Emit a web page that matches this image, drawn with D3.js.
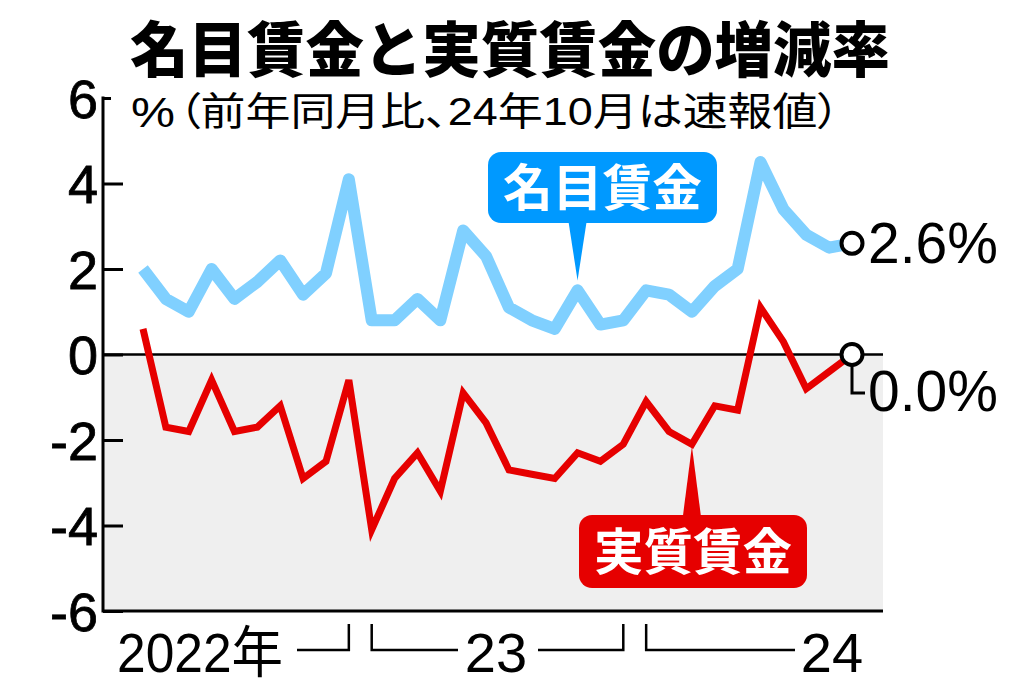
<!DOCTYPE html>
<html><head><meta charset="utf-8">
<script src="https://cdn.jsdelivr.net/npm/d3@7"></script>
<style>body{margin:0;background:#fff}svg{display:block}</style>
</head><body>
<svg id="c" width="1024" height="688"></svg>
<script>
// ---- data ----
const months = ["2022-03","2022-04","2022-05","2022-06","2022-07","2022-08","2022-09","2022-10","2022-11","2022-12",
  "2023-01","2023-02","2023-03","2023-04","2023-05","2023-06","2023-07","2023-08","2023-09","2023-10","2023-11","2023-12",
  "2024-01","2024-02","2024-03","2024-04","2024-05","2024-06","2024-07","2024-08","2024-09","2024-10"];
const nominal = [2.0,1.3,1.0,2.0,1.3,1.7,2.2,1.4,1.9,4.1,0.8,0.8,1.3,0.8,2.9,2.3,1.1,0.8,0.6,1.5,0.7,0.8,1.5,1.4,1.0,1.6,2.0,4.5,3.4,2.8,2.5,2.6];
const real = [0.6,-1.7,-1.8,-0.6,-1.8,-1.7,-1.2,-2.9,-2.5,-0.6,-4.1,-2.9,-2.3,-3.2,-0.9,-1.6,-2.7,-2.8,-2.9,-2.3,-2.5,-2.1,-1.1,-1.8,-2.1,-1.2,-1.3,1.1,0.3,-0.8,-0.4,0.0];
const yTicks = [-6,-4,-2,0,2,4,6];
const yearLabels = ["2022年","23","24"];
const seriesNames = ["名目賃金","実質賃金"];
const title = "名目賃金と実質賃金の増減率";
const unitSymbol = "%";
const unitNote = "（前年同月比、24年10月は速報値）";

// ---- layout ----
const svg = d3.select("#c");
const pL = 103, pR = 883, pT = 98, pB = 611;
const x = d3.scalePoint().domain(months).range([143, 852]);
const y = d3.scaleLinear().domain([-6, 6]).range([pB, pT]);
const cjk = "'Noto Sans CJK JP','Noto Sans CJK SC',sans-serif";
const lat = "'Liberation Sans','Noto Sans CJK JP',Arial,sans-serif";

// negative area
svg.append("rect").attr("x", pL).attr("y", y(0)).attr("width", pR - pL).attr("height", y(-6) - y(0)).attr("fill", "#efefef");

// title
svg.append("text").attr("x", 130).attr("y", 72).attr("textLength", 760).attr("lengthAdjust", "spacingAndGlyphs")
  .attr("font-family", cjk).attr("font-weight", 900).attr("font-size", 60).attr("fill", "#000").text(title);
// unit note
svg.append("text").attr("x", 131).attr("y", 127).attr("font-family", lat).attr("font-size", 42).attr("fill", "#000")
  .attr("textLength", 44).attr("lengthAdjust", "spacingAndGlyphs").text(unitSymbol);
svg.append("text").attr("x", 178).attr("y", 125).attr("textLength", 662).attr("lengthAdjust", "spacingAndGlyphs")
  .style("font-feature-settings", "'palt'")
  .attr("font-family", lat).attr("font-size", 39).attr("fill", "#000").text(unitNote);

// y axis
const ax = svg.append("g").attr("transform", `translate(${pL},0)`)
  .call(d3.axisLeft(y).tickValues(yTicks).tickSize(-20).tickPadding(5).tickFormat(d => String(d)));
ax.select(".domain").remove();
ax.selectAll(".tick line").attr("stroke", "#000").attr("stroke-width", 3)
  .attr("x2", d => d === 6 ? 8 : 20);
ax.selectAll(".tick text").attr("font-family", lat).attr("font-size", 54).attr("fill", "#000")
  .attr("stroke", "#000").attr("stroke-width", 0.8).attr("dy", "0.36em");

// axis frame lines
svg.append("line").attr("x1", pL).attr("x2", pL).attr("y1", pT - 1.5).attr("y2", pB + 1.5).attr("stroke", "#000").attr("stroke-width", 3);
svg.append("line").attr("x1", pL).attr("x2", pR).attr("y1", pB).attr("y2", pB).attr("stroke", "#000").attr("stroke-width", 3);
svg.append("line").attr("x1", pL).attr("x2", pR).attr("y1", y(0)).attr("y2", y(0)).attr("stroke", "#000").attr("stroke-width", 2.5);

// lines
const line = d3.line().x((d, i) => x(months[i])).y(d => y(d));
svg.append("path").datum(nominal).attr("d", line).attr("fill", "none").attr("stroke", "#80d0ff")
  .attr("stroke-width", 12).attr("stroke-linejoin", "round");
svg.append("path").datum(real).attr("d", line).attr("fill", "none").attr("stroke", "#e60000")
  .attr("stroke-width", 7).attr("stroke-linejoin", "miter");

// x year brackets
const xl = svg.append("g").attr("stroke", "#000").attr("stroke-width", 2.5).attr("fill", "none");
const by = 650, bt = 624;
const xDec22 = x("2022-12"), xJan23 = x("2023-01"), xDec23 = x("2023-12"), xJan24 = x("2024-01");
xl.append("path").attr("d", `M297,${by}H${xDec22}V${bt}`);
xl.append("path").attr("d", `M${xJan23},${bt}V${by}H458`);
xl.append("path").attr("d", `M538,${by}H${xDec23}V${bt}`);
xl.append("path").attr("d", `M${xJan24},${bt}V${by}H795`);
svg.append("text").attr("x", 117).attr("y", 672).attr("textLength", 166).attr("lengthAdjust", "spacingAndGlyphs")
  .attr("font-family", lat).attr("font-size", 56).attr("fill", "#000").text(yearLabels[0]);
svg.append("text").attr("x", 496).attr("y", 672).attr("text-anchor", "middle")
  .attr("font-family", lat).attr("font-size", 56).attr("fill", "#000").text(yearLabels[1]);
svg.append("text").attr("x", 832).attr("y", 672).attr("text-anchor", "middle")
  .attr("font-family", lat).attr("font-size", 56).attr("fill", "#000").text(yearLabels[2]);

// end markers
const last = months.length - 1;
const xe = x(months[last]);
svg.append("path").attr("d", `M${xe},${y(real[last]) + 11}V393H865`).attr("fill", "none").attr("stroke", "#000").attr("stroke-width", 3);
[nominal[last], real[last]].forEach(v => {
  svg.append("circle").attr("cx", xe).attr("cy", y(v)).attr("r", 10.5).attr("fill", "#fff").attr("stroke", "#000").attr("stroke-width", 4);
});
svg.append("text").attr("x", 868).attr("y", 263).attr("font-family", lat).attr("font-size", 57).attr("fill", "#000")
  .text(nominal[last].toFixed(1) + "%");
svg.append("text").attr("x", 868).attr("y", 411).attr("font-family", lat).attr("font-size", 57).attr("fill", "#000")
  .text(real[last].toFixed(1) + "%");

// callouts
function callout(rx, ry, rw, rh, tipX, tipY, baseY, color, label) {
  const g = svg.append("g");
  g.append("path").attr("d", `M${tipX - 9},${baseY}L${tipX},${tipY}L${tipX + 9},${baseY}Z`).attr("fill", color);
  g.append("rect").attr("x", rx).attr("y", ry).attr("width", rw).attr("height", rh).attr("rx", 13).attr("fill", color);
  g.append("text").attr("x", rx + 15).attr("y", ry + rh / 2 + 18).attr("textLength", rw - 30).attr("lengthAdjust", "spacingAndGlyphs")
    .attr("font-family", cjk).attr("font-weight", 700).attr("font-size", 50).attr("fill", "#fff").text(label);
}
const iN = months.indexOf("2023-10"), iR = months.indexOf("2024-03");
callout(488, 152, 229, 71, x(months[iN]), y(nominal[iN]) - 10, 222, "#0099ff", seriesNames[0]);
callout(579, 515, 228, 73, x(months[iR]), y(real[iR]) + 2, 516, "#e60000", seriesNames[1]);
</script>
</body></html>
